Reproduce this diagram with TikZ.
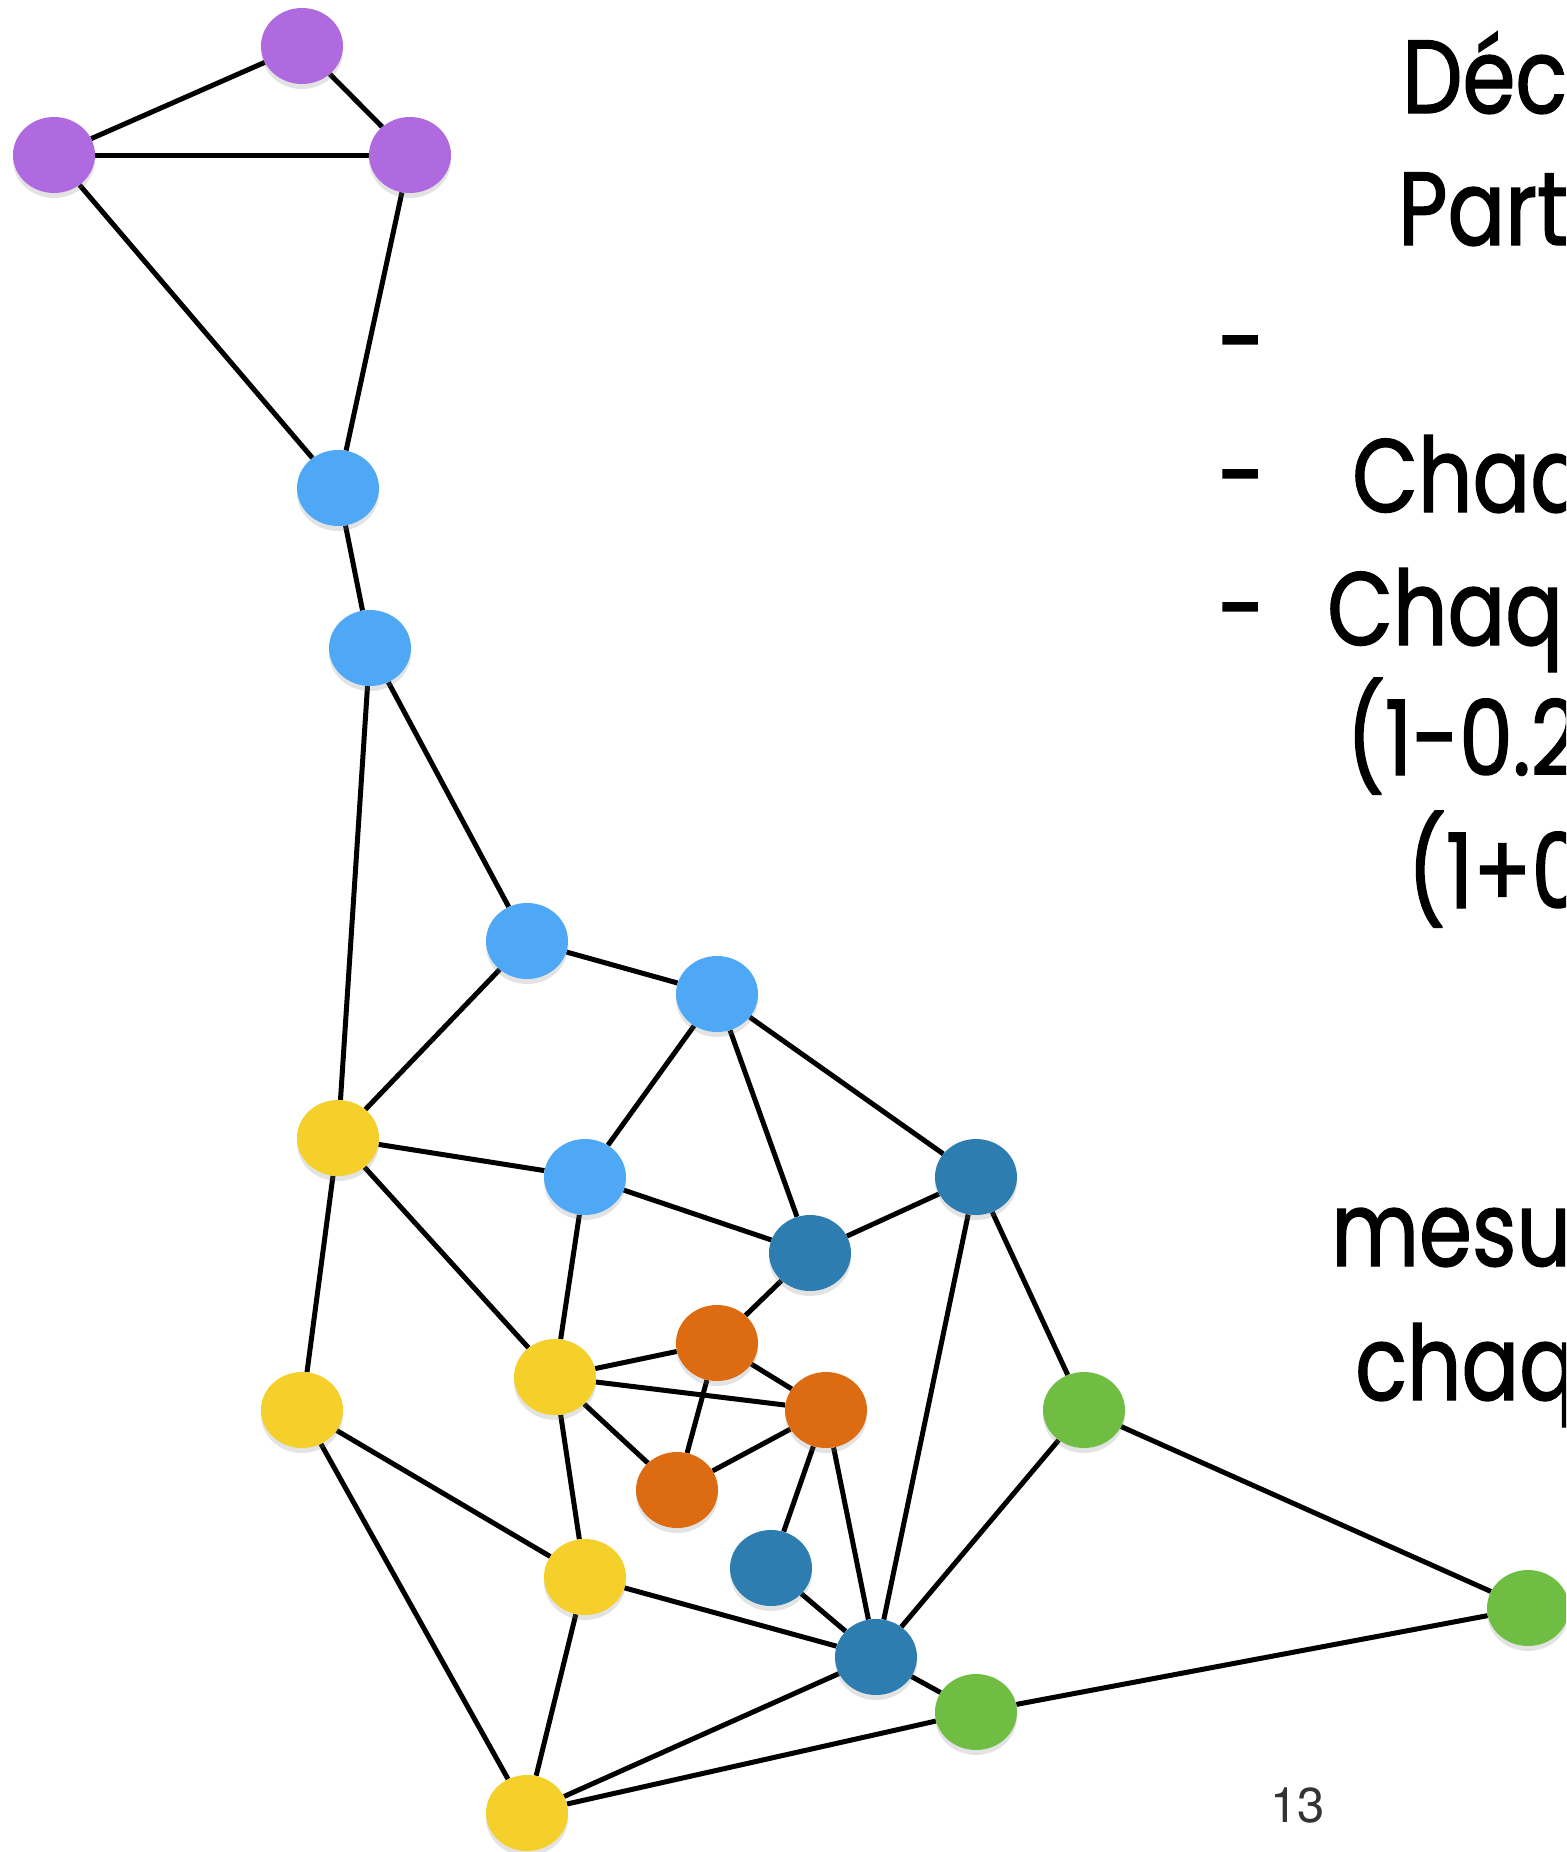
\documentclass[tikz,border=0pt]{standalone}
\usepackage{fontspec}
\setmainfont{Poppins}[FakeStretch=0.82,FakeBold=1.3]
\newfontfamily\numfont{TeX Gyre Heros}
\usetikzlibrary{shapes.geometric,shadows,backgrounds}
\definecolor{cpurple}{HTML}{B06ADF}
\definecolor{clblue}{HTML}{4FA8F5}
\definecolor{cdblue}{HTML}{2E7DB0}
\definecolor{corange}{HTML}{DD6B12}
\definecolor{cyellow}{HTML}{F5D02A}
\definecolor{cgreen}{HTML}{6FBD43}
\begin{document}
\begin{tikzpicture}[x=1pt,y=-1pt,
  vtx/.style={ellipse, minimum width=82pt, minimum height=76pt, inner sep=0pt, draw=none,
    drop shadow={opacity=0.22, shadow xshift=0pt, shadow yshift=-5pt}},
  edge/.style={line width=5pt, black},
  txt/.style={anchor=base west, inner sep=0pt, font=\fontsize{104}{133}\selectfont},
  pnum/.style={anchor=base west, inner sep=0pt, text=black!80, font=\numfont\fontsize{49}{55}\selectfont}]
\useasboundingbox (0,0) rectangle (1566,1852);
\clip (0,0) rectangle (1566,1852);
% nodes
\node[vtx, fill=cpurple] (P1) at (302,46) {};
\node[vtx, fill=cpurple] (P2) at (54,155) {};
\node[vtx, fill=cpurple] (P3) at (410,155) {};
\node[vtx, fill=clblue] (B1) at (338,488) {};
\node[vtx, fill=clblue] (B2) at (370,648) {};
\node[vtx, fill=clblue] (B3) at (527,941) {};
\node[vtx, fill=clblue] (B4) at (717,994) {};
\node[vtx, fill=clblue] (B5) at (585,1177) {};
\node[vtx, fill=cdblue] (D1) at (976,1177) {};
\node[vtx, fill=cdblue] (D2) at (810,1253) {};
\node[vtx, fill=cdblue] (D3) at (771,1568) {};
\node[vtx, fill=cdblue] (D4) at (876,1657) {};
\node[vtx, fill=corange] (O1) at (717,1343) {};
\node[vtx, fill=corange] (O2) at (826,1410) {};
\node[vtx, fill=corange] (O3) at (677,1490) {};
\node[vtx, fill=cyellow] (Y1) at (338,1138) {};
\node[vtx, fill=cyellow] (Y2) at (555,1377) {};
\node[vtx, fill=cyellow] (Y3) at (302,1410) {};
\node[vtx, fill=cyellow] (Y4) at (585,1577) {};
\node[vtx, fill=cyellow] (Y5) at (527,1813) {};
\node[vtx, fill=cgreen] (G1) at (1084,1410) {};
\node[vtx, fill=cgreen] (G2) at (1528,1608) {};
\node[vtx, fill=cgreen] (G3) at (976,1712) {};
% edges
\begin{scope}[on background layer]
\foreach \a/\b in {P2/P1,P1/P3,P2/P3,P2/B1,P3/B1,B1/B2,B2/B3,B2/Y1,B3/B4,B3/Y1,
  B4/B5,B4/D2,B4/D1,Y1/B5,Y1/Y2,Y1/Y3,B5/D2,B5/Y2,D2/D1,D2/O1,O1/Y2,O1/O2,O1/O3,
  Y2/O2,Y2/O3,Y2/Y4,O3/O2,O2/D3,O2/D4,D1/D4,D1/G1,G1/D4,G1/G2,G2/G3,Y3/Y4,Y3/Y5,
  Y4/D4,Y4/Y5,D3/D4,D4/G3,D4/Y5,G3/Y5}
  \draw[edge] (\a) -- (\b);
\end{scope}
% text
\node[txt] (t1) at (1402,113) {Déc};
\node[txt] (t2) at (1398,245) {Part};
\node[txt] (d1) at (1218,378) {-};
\node[txt] (d2) at (1218,512) {-};
\node[txt] (t3) at (1352,512) {Chaq};
\node[txt] (d3) at (1218,645) {-};
\node[txt] (t4) at (1327,645) {Chaqu};
\node[txt] (t5) at (1346,775) {(1-0.2};
\node[txt] (t6) at (1407,908) {(1+0};
\node[txt] (t7) at (1331,1266) {mesur};
\node[txt] (t8) at (1355,1400) {chaqu};
\node[pnum] (pn) at (1270,1822) {13};
\end{tikzpicture}
\end{document}
